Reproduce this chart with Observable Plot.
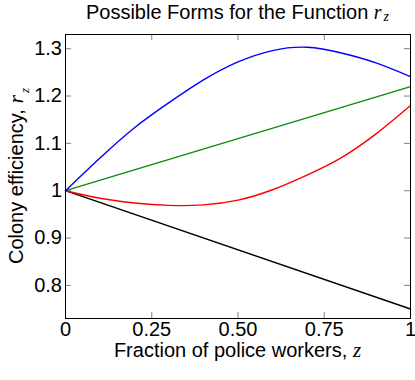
<!DOCTYPE html>
<html><head><meta charset="utf-8">
<script src="https://cdn.jsdelivr.net/npm/d3@7"></script>
<script src="https://cdn.jsdelivr.net/npm/@observablehq/plot@0.6"></script>
<style>body{margin:0;background:#fff}</style>
</head><body><div id="chart"></div>
<script>
// Data
const zSample = [0, 0.1, 0.2, 0.3, 0.4, 0.5, 0.6, 0.7, 0.8, 0.9, 1];
const blueValues = [1, 1.069, 1.133, 1.186, 1.234, 1.272, 1.296, 1.303, 1.291, 1.270, 1.241];
const redValues  = [1, 0.984, 0.974, 0.969, 0.970, 0.980, 1.002, 1.033, 1.070, 1.120, 1.180];
const lineZ = [0, 1];
const greenValues = [1, 1.22];
const blackValues = [1, 0.75];
const xTicks = [0, 0.25, 0.5, 0.75, 1];
const xTickLabels = ["0", "0.25", "0.50", "0.75", "1"];
const yTicks = [0.8, 0.9, 1.0, 1.1, 1.2, 1.3];
const yTickLabels = ["0.8", "0.9", "1", "1.1", "1.2", "1.3"];

const W = 415, H = 380;
const mL = 65, mR = 5, mT = 34, mB = 62;
const innerW = W - mL - mR, innerH = H - mT - mB;
const tickLen = 6;
const font = "'Liberation Sans', Arial, Helvetica, sans-serif";
const serif = "'Liberation Serif', 'Times New Roman', serif";

const series = (zs, vs) => zs.map((z, i) => ({z, v: vs[i]}));

const plot = Plot.plot({
  width: W, height: H,
  marginLeft: mL, marginRight: mR, marginTop: mT, marginBottom: mB,
  style: {fontFamily: font, fontSize: "20px", background: "#fff", color: "#000"},
  x: {domain: [0, 1]},
  y: {domain: [0.73, 1.33]},
  marks: [
    Plot.ruleX(xTicks, {x: d => d, insetTop: innerH - tickLen, stroke: "#808080"}),
    Plot.ruleX(xTicks, {x: d => d, insetBottom: innerH - tickLen, stroke: "#808080"}),
    Plot.ruleY(yTicks, {y: d => d, insetRight: innerW - tickLen, stroke: "#808080"}),
    Plot.ruleY(yTicks, {y: d => d, insetLeft: innerW - tickLen, stroke: "#808080"}),
    Plot.line(series(lineZ, blackValues), {x: "z", y: "v", stroke: "#000000", strokeWidth: 1.4}),
    Plot.line(series(lineZ, greenValues), {x: "z", y: "v", stroke: "#0b8a0b", strokeWidth: 1.4}),
    Plot.line(series(zSample, redValues), {x: "z", y: "v", stroke: "#ff0000", strokeWidth: 1.4, curve: "natural"}),
    Plot.line(series(zSample, blueValues), {x: "z", y: "v", stroke: "#0000ff", strokeWidth: 1.4, curve: "natural"}),
    Plot.frame({stroke: "#000", strokeWidth: 1}),
    Plot.axisX({ticks: xTicks, tickFormat: d => xTickLabels[xTicks.indexOf(d)], tickSize: 0, tickPadding: 3, label: null, fontSize: 20}),
    Plot.axisY({ticks: yTicks, tickFormat: d => yTickLabels[yTicks.findIndex(t => Math.abs(t - d) < 1e-9)], tickSize: 0, tickPadding: 3.5, label: null, fontSize: 20})
  ]
});

const svg = d3.select(plot);
const cx = mL + innerW / 2;
// Title
const t = svg.append("text").attr("x", cx).attr("y", 18.5).attr("text-anchor", "middle")
  .attr("font-family", font).attr("font-size", 20).attr("fill", "#000");
t.append("tspan").text("Possible Forms for the Function ");
t.append("tspan").attr("font-family", serif).attr("font-style", "italic").attr("font-size", 20).text("r");
t.append("tspan").attr("font-family", serif).attr("font-style", "italic").attr("font-size", 14).attr("dx", 2).attr("dy", 2).text("z");
// X label
const xl = svg.append("text").attr("x", cx).attr("y", 357).attr("text-anchor", "middle")
  .attr("font-family", font).attr("font-size", 20).attr("fill", "#000");
xl.append("tspan").text("Fraction of police workers, ");
xl.append("tspan").attr("font-family", serif).attr("font-style", "italic").attr("font-size", 21).text("z");
// Y label
const yl = svg.append("text").attr("transform", `translate(22.5,${mT + innerH / 2}) rotate(-90)`).attr("text-anchor", "middle")
  .attr("font-family", font).attr("font-size", 20).attr("fill", "#000");
yl.append("tspan").text("Colony efficiency, ");
yl.append("tspan").attr("font-family", serif).attr("font-style", "italic").attr("font-size", 22).text("r");
yl.append("tspan").attr("font-family", serif).attr("font-style", "italic").attr("font-size", 13).attr("dx", 2).attr("dy", 6).text("z");

document.getElementById("chart").appendChild(plot);
</script></body></html>
